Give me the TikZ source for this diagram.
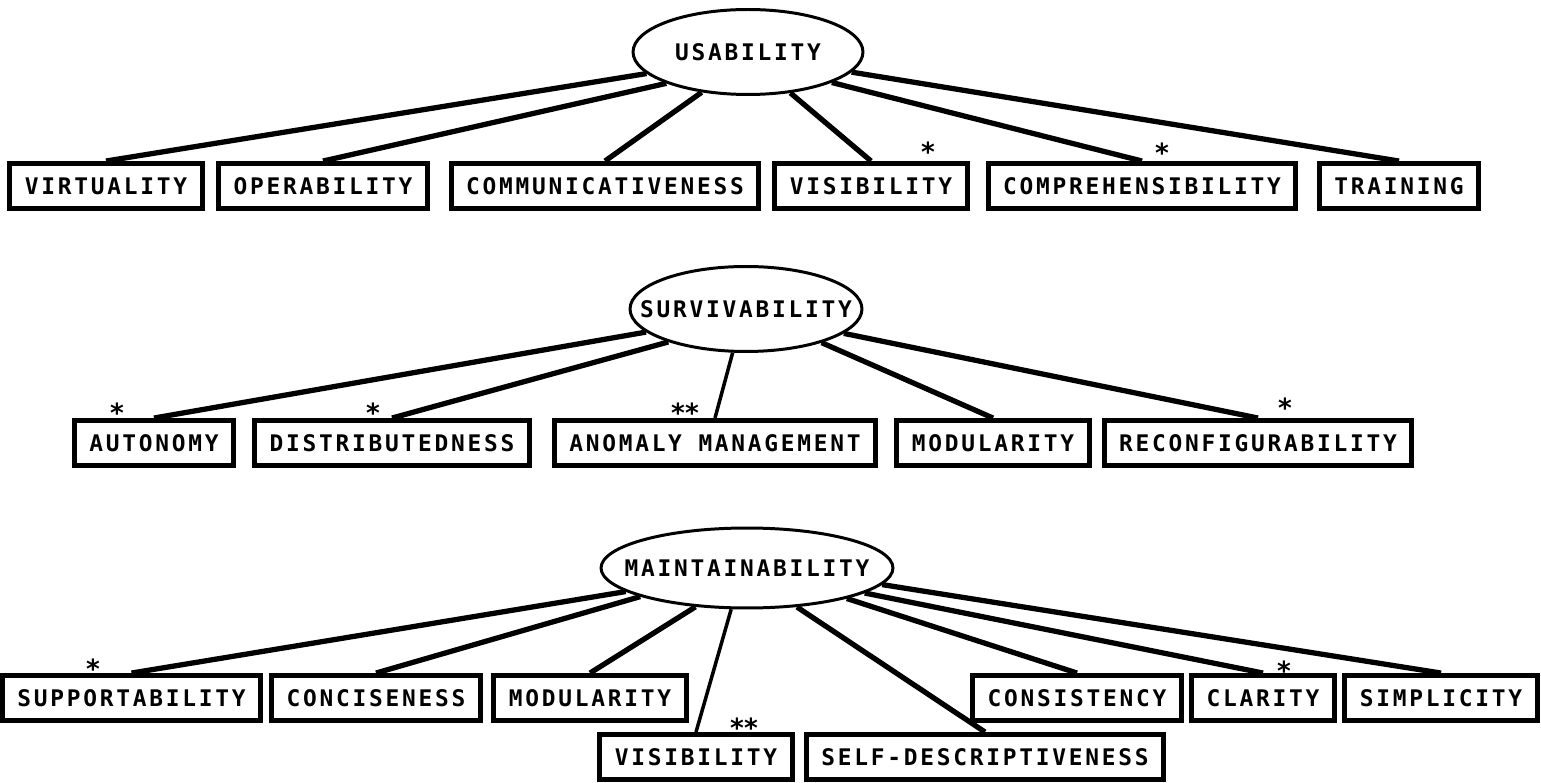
\documentclass[tikz,border=0pt]{standalone}
\usepackage{fontspec}
\newfontfamily\plotfont[LetterSpace=12]{DejaVu Sans Mono}
\newfontfamily\starfont{DejaVu Sans}
\usetikzlibrary{shapes.geometric, positioning}

\begin{document}
\begin{tikzpicture}[
    x=0.02cm, y=-0.02cm,
    every node/.style={font=\plotfont\bfseries\fontsize{13}{15}\selectfont}, % plotter lettering
    attr/.style={draw, line width=2.8pt, minimum height=0.9cm, inner xsep=0.3cm, inner ysep=0pt}, % factor boxes
    goal/.style={draw, ellipse, line width=1.7pt, inner sep=0pt}, % top-level ellipses (fixed size)
    link/.style={line width=3pt}, % tree edges
    thinlink/.style={line width=2pt}, % the two lighter edges
    starnote/.style={anchor=base, inner sep=0pt, font=\starfont\bfseries\fontsize{15}{15}\selectfont} % * / ** marks
]
    \useasboundingbox (0,0) rectangle (1541,783);

    % 1. usability tree
    \node[goal, minimum width=4.6cm, minimum height=1.7cm] (usab) at (748,52) {\makebox[0pt]{USABILITY}};
    \node[attr] (virt) at (106,186) {VIRTUALITY};
    \node[attr] (oper) at (323,186) {OPERABILITY};
    \node[attr] (comm) at (605,186) {COMMUNICATIVENESS};
    \node[attr] (visu) at (871,186) {VISIBILITY};
    \node[attr] (comp) at (1142,186) {COMPREHENSIBILITY};
    \node[attr] (trai) at (1399,186) {TRAINING};
    % edges leave the lower rim of the ellipse
    \foreach \b/\a in {virt/-168,oper/-159,comm/-139,visu/-44,comp/-20,trai/-11} {
        \draw[link] (usab.\a) -- (\b.north);
    }
    \node[starnote] (su1) at (928,162) {*};
    \node[starnote] (su2) at (1162,163) {*};

    % 2. survivability tree
    \node[goal, minimum width=4.64cm, minimum height=1.7cm] (surv) at (746,309) {\makebox[0pt]{SURVIVABILITY}};
    \node[attr] (auto) at (154,443) {AUTONOMY};
    \node[attr] (dist) at (392,443) {DISTRIBUTEDNESS};
    \node[attr] (anom) at (715,443) {ANOMALY MANAGEMENT};
    \node[attr] (mods) at (993,443) {MODULARITY};
    \node[attr] (reco) at (1258,443) {RECONFIGURABILITY};
    \foreach \b/\a in {auto/-167,dist/-157,mods/-24,reco/-14} {
        \draw[link] (surv.\a) -- (\b.north);
    }
    \draw[thinlink] (surv.-107) -- (anom.north);
    \node[starnote] (ss1) at (117,423) {*};
    \node[starnote] (ss2) at (373,423) {*};
    \node[starnote] (ss3) at (685,423) {**};
    \node[starnote] (ss4) at (1285,418) {*};

    % 3. maintainability tree (upper row, plus two boxes tucked underneath)
    \node[goal, minimum width=5.84cm, minimum height=1.6cm] (main) at (747,568) {\makebox[0pt]{MAINTAINABILITY}};
    \node[attr, anchor=west] (supp) at (0,698) {SUPPORTABILITY};
    \node[attr] (conc) at (376,698) {CONCISENESS};
    \node[attr] (modm) at (590,698) {MODULARITY};
    \node[attr] (cons) at (1077,698) {CONSISTENCY};
    \node[attr] (clar) at (1263,698) {CLARITY};
    \node[attr] (simp) at (1441,698) {SIMPLICITY};
    \node[attr] (vism) at (696,757) {VISIBILITY};
    \node[attr] (self) at (985,757) {SELF-DESCRIPTIVENESS};
    \foreach \b/\a in {supp/-169,conc/-165,modm/-143,self/-38,cons/-17,clar/-12,simp/-7} {
        \draw[link] (main.\a) -- (\b.north);
    }
    \draw[thinlink] (main.-111) -- (vism.north);
    \node[starnote] (sm1) at (93,678) {*};
    \node[starnote] (sm2) at (1284,680) {*};
    \node[starnote] (sm3) at (744,737) {**};

\end{tikzpicture}
\end{document}
